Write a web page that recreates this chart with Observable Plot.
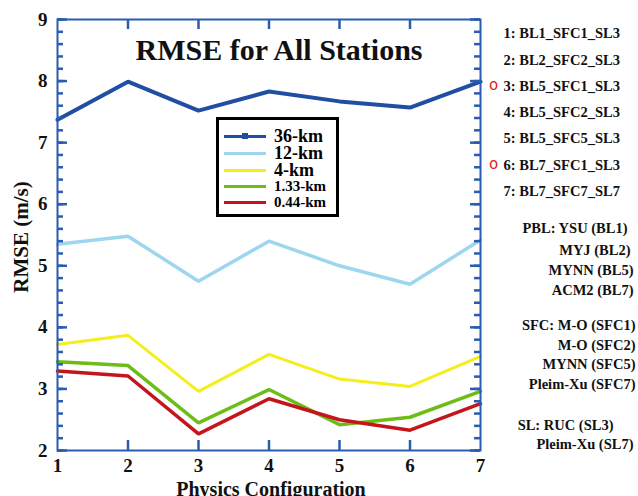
<!DOCTYPE html>
<html>
<head>
<meta charset="utf-8">
<script src="https://cdn.jsdelivr.net/npm/d3@7"></script>
<script src="https://cdn.jsdelivr.net/npm/@observablehq/plot@0.6"></script>
<style>
  body { margin: 0; background: #fff; }
  #wrap { position: relative; width: 638px; height: 496px; font-family: "Liberation Serif", "DejaVu Serif", serif; font-weight: bold; }
  #legend { position: absolute; left: 216px; top: 117px; width: 117px; height: 94px; border: 3px solid #000; background: #fff; }
  .row { position: absolute; left: 0; height: 16px; display: flex; align-items: center; }
  .sw { width: 42px; height: 3px; margin-left: 5px; margin-right: 8px; position: relative; }
  .sw i { position: absolute; left: 18px; top: -1.5px; width: 6px; height: 6px; }
  .lab { line-height: 1; color: #000; }
</style>
</head>
<body>
<div id="wrap"></div>
<script>
// ---- data ----
const configs = [1, 2, 3, 4, 5, 6, 7];
const series = ["36-km", "12-km", "4-km", "1.33-km", "0.44-km"];
const rmse36 = [7.37, 7.99, 7.52, 7.83, 7.67, 7.57, 7.99];
const rmse12 = [5.35, 5.48, 4.75, 5.40, 5.00, 4.70, 5.42];
const rmse4 = [3.72, 3.87, 2.96, 3.56, 3.16, 3.04, 3.53];
const rmse133 = [3.44, 3.38, 2.45, 2.99, 2.42, 2.54, 2.96];
const rmse044 = [3.29, 3.21, 2.27, 2.84, 2.50, 2.33, 2.76];
const yTicks = [2, 3, 4, 5, 6, 7, 8, 9];
const xTicks = [1, 2, 3, 4, 5, 6, 7];
const configLabels = ["1: BL1_SFC1_SL3", "2: BL2_SFC2_SL3", "3: BL5_SFC1_SL3", "4: BL5_SFC2_SL3", "5: BL5_SFC5_SL3", "6: BL7_SFC1_SL3", "7: BL7_SFC7_SL7"];
const markedConfigs = [3, 6];
const schemeLabels = ["PBL: YSU (BL1)", "MYJ (BL2)", "MYNN (BL5)", "ACM2 (BL7)", "SFC: M-O (SFC1)", "M-O (SFC2)", "MYNN (SFC5)", "Pleim-Xu (SFC7)", "SL: RUC (SL3)", "Pleim-Xu (SL7)"];
const title = "RMSE for All Stations";
const xLabel = "Physics Configuration";
const yLabel = "RMSE (m/s)";

// ---- styles ----
const colors = ["#1f4ea3", "#9fd6ef", "#f4ee1c", "#6dbd18", "#c4151c"];
const widths = [4, 3.5, 3, 3.5, 3.5];
const frameColor = "#2a5cb0";
const font = "'Liberation Serif', 'DejaVu Serif', serif";

const values = [rmse36, rmse12, rmse4, rmse133, rmse044];
const rows = [];
series.forEach((s, i) => configs.forEach((c, j) => rows.push({series: s, config: c, rmse: values[i][j]})));
const minorTicks = d3.range(10, 46).map(d => d / 5);
const innerX = xTicks.slice(1, -1);
const xDom = [xTicks[0], xTicks[xTicks.length - 1]];
const yDom = [yTicks[0], yTicks[yTicks.length - 1]];

const W = 638, H = 496, mL = 57, mR = 158, mT = 19, mB = 46;
const pw = W - mL - mR, ph = H - mT - mB;
const xPerPx = (xDom[1] - xDom[0]) / pw, yPerPx = (yDom[1] - yDom[0]) / ph;
const minorLen = 6, majorLen = 10;

// layout offsets (relative to top-right of frame) for right-hand annotations
const configDy = [14, 41, 67, 93, 119, 146, 172];
const schemeDy = [209, 231, 251, 271, 306, 326, 345, 365, 406, 425];
const schemeDx = [147, 150, 153, 153, 155, 155, 155, 155, 133, 153];

const tk = {stroke: frameColor, strokeWidth: 2.5};
const marks = [
  Plot.axisY(yTicks, {anchor: "left", tickSize: 0, tickPadding: 10, tickFormat: "d", fontSize: 19, fontWeight: "bold", fill: "#111", label: null}),
  Plot.axisX(xTicks, {anchor: "bottom", tickSize: 0, tickPadding: 8, tickFormat: "d", fontSize: 19, fontWeight: "bold", fill: "#111", label: null}),
  Plot.lineY(rows, {x: "config", y: "rmse", z: "series", stroke: d => colors[series.indexOf(d.series)], strokeWidth: d => widths[series.indexOf(d.series)], strokeLinejoin: "miter"}),
  Plot.frame({stroke: frameColor, strokeWidth: 2}),
  Plot.text([title], {frameAnchor: "top", dx: 10, dy: 31, fontSize: 30, fontWeight: "bold", fill: "#111", lineAnchor: "middle"}),
  Plot.text([xLabel], {frameAnchor: "bottom", dx: 2, dy: 39, fontSize: 20, fontWeight: "bold", fill: "#111", lineAnchor: "middle"}),
  Plot.text([yLabel], {frameAnchor: "left", dx: -36, dy: 2, rotate: -90, textAnchor: "middle", fontSize: 21, fontWeight: "bold", fill: "#111", lineAnchor: "middle"}),
  ...configLabels.map((t, i) => Plot.text([t], {frameAnchor: "top-right", dx: 23, dy: configDy[i], textAnchor: "start", lineAnchor: "middle", fontSize: 14.5, fontWeight: "bold", fill: "#111"})),
  ...markedConfigs.map(c => Plot.text(["o"], {frameAnchor: "top-right", dx: 13, dy: configDy[c - 1] - 1, textAnchor: "middle", lineAnchor: "middle", fontSize: 15, fontWeight: "normal", fill: "#e02020", fontFamily: "DejaVu Sans"})),
  ...schemeLabels.map((t, i) => Plot.text([t], {frameAnchor: "top-right", dx: schemeDx[i], dy: schemeDy[i], textAnchor: "end", lineAnchor: "middle", fontSize: 14.5, fontWeight: "bold", fill: "#111"})),
  // inward ticks: minor every 0.2 and major at integers on left/right; majors on top/bottom
  Plot.ruleY(minorTicks, {y: d => d, x1: () => xDom[0], x2: () => xDom[0] + minorLen * xPerPx, ...tk}),
  Plot.ruleY(minorTicks, {y: d => d, x1: () => xDom[1] - minorLen * xPerPx, x2: () => xDom[1], ...tk}),
  Plot.ruleY(yTicks, {y: d => d, x1: () => xDom[0], x2: () => xDom[0] + majorLen * xPerPx, ...tk}),
  Plot.ruleY(yTicks, {y: d => d, x1: () => xDom[1] - majorLen * xPerPx, x2: () => xDom[1], ...tk}),
  Plot.ruleX(innerX, {x: d => d, y1: () => yDom[0], y2: () => yDom[0] + majorLen * yPerPx, ...tk}),
  Plot.ruleX(innerX, {x: d => d, y1: () => yDom[1] - majorLen * yPerPx, y2: () => yDom[1], ...tk})
];

const chart = Plot.plot({
  width: W,
  height: H,
  marginLeft: mL,
  marginRight: mR,
  marginTop: mT,
  marginBottom: mB,
  style: {fontFamily: font, background: "#fff", overflow: "visible"},
  x: {domain: xDom, axis: null},
  y: {domain: yDom, axis: null},
  marks
});

const wrap = document.getElementById("wrap");
wrap.appendChild(chart);

// legend overlay
const legend = document.createElement("div");
legend.id = "legend";
const legendSizes = [18, 18, 18, 15, 15];
const rowTops = [8, 25, 42, 58, 74];
series.forEach((s, i) => {
  const r = document.createElement("div");
  r.className = "row";
  r.style.top = rowTops[i] + "px";
  const sw = document.createElement("div");
  sw.className = "sw";
  sw.style.background = colors[i];
  if (i === 0) { const m = document.createElement("i"); m.style.background = colors[i]; sw.appendChild(m); }
  const lab = document.createElement("span");
  lab.className = "lab";
  lab.style.fontSize = legendSizes[i] + "px";
  lab.textContent = s;
  r.appendChild(sw); r.appendChild(lab);
  legend.appendChild(r);
});
wrap.appendChild(legend);
</script>
</body>
</html>
